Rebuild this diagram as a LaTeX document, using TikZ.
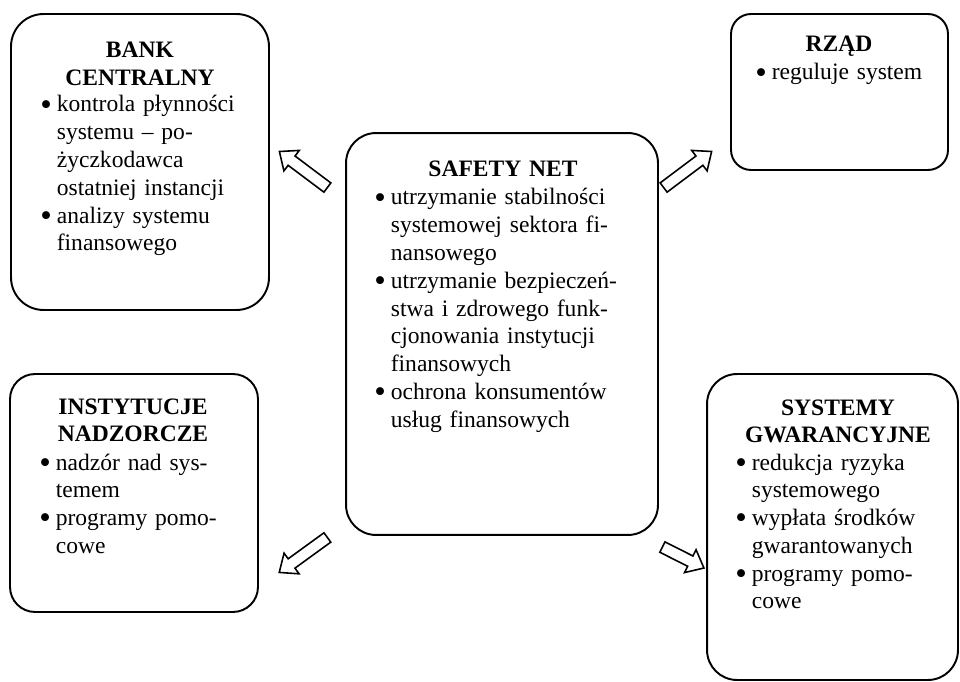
\documentclass[tikz,border=0pt]{standalone}
\usepackage{fontspec}
\setmainfont{Liberation Serif}
\usetikzlibrary{shapes.arrows}

\newcommand{\pkt}{\makebox[0.27cm][l]{\hspace*{-0.06cm}\raisebox{-0.3ex}{\scalebox{1.4}{\textbullet}}}}
\newcommand{\dal}{\hspace*{0.27cm}}

\tikzset{
  ramka/.style={draw, line width=1.1pt, inner sep=0pt},
  tytul/.style={anchor=base, align=center, text width=6cm, inner sep=0pt,
    font=\fontsize{13.4}{15.8}\selectfont\bfseries},
  tresc/.style={anchor=base west, align=left, text width=7cm, inner sep=0pt,
    font=\fontsize{13.4}{15.8}\selectfont},
  strzalka/.style={draw, line width=0.9pt, single arrow, anchor=tail,
    inner xsep=0pt, inner ysep=0.1cm, text height=0pt, text depth=0pt,
    single arrow head extend=0.14cm, single arrow tip angle=80},
}

\begin{document}
\begin{tikzpicture}[x=0.02cm, y=-0.02cm]
\useasboundingbox (0,0) rectangle (960,682);

% ramki
\node[ramka, rounded corners=0.65cm, minimum width=5.16cm, minimum height=5.92cm] (bank) at (140,162) {};
\node[ramka, rounded corners=0.6cm, minimum width=6.24cm, minimum height=8.04cm] (safety) at (502,334) {};
\node[ramka, rounded corners=0.4cm, minimum width=4.34cm, minimum height=3.12cm] (rzad) at (839.5,92) {};
\node[ramka, rounded corners=0.5cm, minimum width=4.96cm, minimum height=4.76cm] (inst) at (134,493) {};
\node[ramka, rounded corners=0.6cm, minimum width=5.02cm, minimum height=6.12cm] (sys) at (832.5,527) {};

% BANK CENTRALNY
\node[tytul] (bankT) at (140,58) {BANK\\CENTRALNY};
\node[tresc] (bankB) at (43,112) {\pkt kontrola płynności\\
\dal systemu – po-\\
\dal życzkodawca\\
\dal ostatniej instancji\\
\pkt analizy systemu\\
\dal finansowego};

% SAFETY NET
\node[tytul] (safetyT) at (503,177) {SAFETY NET};
\node[tresc] (safetyB) at (377,205) {\pkt utrzymanie stabilności\\
\dal systemowej sektora fi-\\
\dal nansowego\\
\pkt utrzymanie bezpieczeń-\\
\dal stwa i zdrowego funk-\\
\dal cjonowania instytucji\\
\dal finansowych\\
\pkt ochrona konsumentów\\
\dal usług finansowych};

% RZĄD
\node[tytul] (rzadT) at (839,52) {RZĄD};
\node[tresc] (rzadB) at (758,80) {\pkt reguluje system};

% INSTYTUCJE NADZORCZE
\node[tytul] (instT) at (133,414) {INSTYTUCJE\\NADZORCZE};
\node[tresc] (instB) at (42,470) {\pkt nadzór nad sys-\\
\dal temem\\
\pkt programy pomo-\\
\dal cowe};

% SYSTEMY GWARANCYJNE
\node[tytul] (sysT) at (838,415) {SYSTEMY\\GWARANCYJNE};
\node[tresc] (sysB) at (738,470) {\pkt redukcja ryzyka\\
\dal systemowego\\
\pkt wypłata środków\\
\dal gwarantowanych\\
\pkt programy pomo-\\
\dal cowe};

% strzałki
\coordinate (ogonBank) at (328,188);
\coordinate (ogonRzad) at (663,188);
\coordinate (ogonInst) at (328,537);
\coordinate (ogonSys) at (661.7,546.7);
\node[strzalka, minimum height=1.2cm, rotate=143.1] (doBank) at (ogonBank) {};
\node[strzalka, minimum height=1.2cm, rotate=36.9] (doRzad) at (ogonRzad) {};
\node[strzalka, minimum height=1.19cm, rotate=216] (doInst) at (ogonInst) {};
\node[strzalka, minimum height=0.93cm, rotate=-26.8] (doSys) at (ogonSys) {};
\end{tikzpicture}
\end{document}
